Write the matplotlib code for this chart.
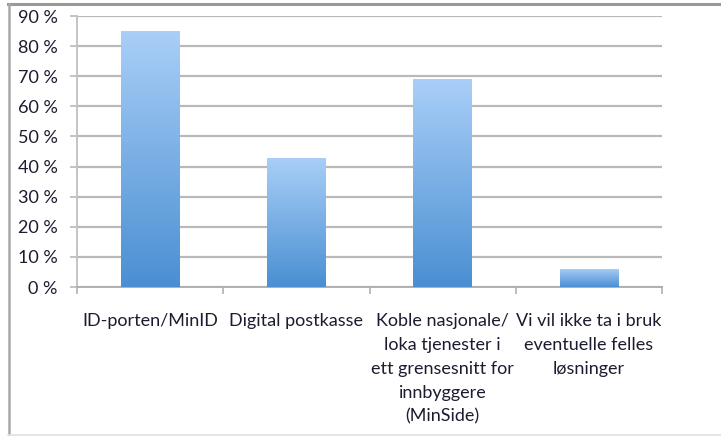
import numpy as np
import matplotlib
matplotlib.use("Agg")
import matplotlib.pyplot as plt
from matplotlib.colors import LinearSegmentedColormap
from matplotlib.lines import Line2D

# data
categories = ["ID-porten/MinID",
              "Digital postkasse",
              "Koble nasjonale/\nloka tjenester i\nett grensesnitt for\ninnbyggere\n(MinSide)",
              "Vi vil ikke ta i bruk\neventuelle felles\nløsninger"]
shares = [85, 43, 69, 6]
yticks = [0, 10, 20, 30, 40, 50, 60, 70, 80, 90]
ytick_labels = ["%d %%" % t for t in yticks]

plt.rcParams['font.family'] = ['Lato', 'DejaVu Sans']

W, H = 721, 436
fig = plt.figure(figsize=(W / 100, H / 100), dpi=100)
ax = fig.add_axes([77 / W, (H - 287) / H, (662 - 77) / W, (287 - 16) / H])

x = np.arange(len(categories))
bars = ax.bar(x, shares, width=0.40, color="none", edgecolor="none", zorder=3)

# vertical gradient, light on top, darker at the base
cmap = LinearSegmentedColormap.from_list("bluegrad", ["#4a8fd2", "#a9cff8"])
grad = np.linspace(0, 1, 256).reshape(-1, 1)
for b in bars:
    x0, y0 = b.get_x(), b.get_y()
    w, h = b.get_width(), b.get_height()
    im = ax.imshow(grad, cmap=cmap, origin="lower", aspect="auto",
                   extent=[x0, x0 + w, y0, y0 + h], zorder=3)
    im.set_clip_path(b)

ax.set_xlim(-0.5, len(categories) - 0.5)
ax.set_ylim(0, 90)

ax.set_yticks(yticks)
ax.set_yticklabels(ytick_labels)
ax.yaxis.grid(True, color="#b9b9b9", linewidth=1.6, zorder=0)
ax.set_axisbelow(True)

ax.set_xticks(x)
ax.set_xticklabels(categories, linespacing=1.6)
ax.set_xticks(np.arange(len(categories) + 1) - 0.5, minor=True)
ax.tick_params(axis="x", which="major", length=0, pad=19, labelsize=13,
               labelcolor="#1c1c30")
ax.tick_params(axis="x", which="minor", length=5, color="#b0b0b0", width=1.2)
ax.tick_params(axis="y", length=5, color="#b9b9b9", width=1.2, pad=9,
               labelsize=13, labelcolor="#1c1c30")

for side in ["top", "right"]:
    ax.spines[side].set_visible(False)
ax.spines["left"].set_color("#c4c4c4")
ax.spines["left"].set_linewidth(1.4)
ax.spines["bottom"].set_color("#b0b0b0")
ax.spines["bottom"].set_linewidth(1.4)

# outer chart frame
fig.add_artist(Line2D([8 / W, 1], [(H - 4.5) / H, (H - 4.5) / H],
                      color="#9a9a9a", linewidth=2.2))
fig.add_artist(Line2D([8.5 / W, 8.5 / W], [(H - 4.5) / H, 0],
                      color="#a8a8a8", linewidth=1.8))
fig.add_artist(Line2D([8 / W, 1], [(H - 434.5) / H, (H - 434.5) / H],
                      color="#e2e2e2", linewidth=1.2))

fig.savefig("out.png", dpi=100)
